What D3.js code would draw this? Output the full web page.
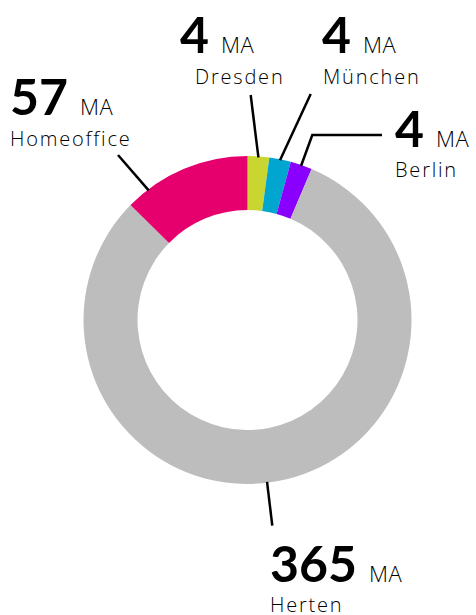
<!DOCTYPE html>
<html>

<head>
    <meta charset='utf-8'>
    <title>Standorte</title>
    <script type='text/javascript' src='https://cdn.jsdelivr.net/npm/d3@7'></script>
    <style>
        body { margin: 0; background: #fff; }
        text { font-family: Lato, 'Open Sans', sans-serif; fill: #000; }
        text.light { font-family: 'Open Sans', Lato, sans-serif; font-weight: 300; }
    </style>
</head>

<body>
    <svg width='476' height='615'></svg>
    <script type='text/javascript'>

        // Daten
        const categories = ['Dresden', 'München', 'Berlin', 'Herten', 'Homeoffice']
        const values = [4, 4, 4, 365, 57]
        const unit = 'MA'
        const colors = ['#c9d531', '#00a6cf', '#8a00ff', '#bdbdbd', '#e5006d']

        // kleine Segmente werden mit Mindestgröße gezeichnet, damit sie sichtbar bleiben
        const minSliceValue = 9.6

        const svg = d3.select('svg')
        const center = { x: 247.5, y: 320 }
        const outerR = 164
        const innerR = 110

        const dataset = categories.map((c, i) => ({ name: c, value: values[i], color: colors[i] }))

        const pie = d3.pie().sort(null).value(d => Math.max(d.value, minSliceValue))
        const arc = d3.arc().innerRadius(innerR).outerRadius(outerR)
        const arcs = pie(dataset)

        const g = svg.append('g').attr('transform', `translate(${center.x}, ${center.y})`)
        g.selectAll('path').data(arcs).enter().append('path')
            .attr('d', arc)
            .attr('fill', d => d.data.color)

        // Beschriftung: Position der Zahl, Versatz des Namens, Führungslinie
        const labels = {
            'Dresden': { x: 180, y: 53, nameDx: 15, t: 0.5, line: [[250.7, 95]] },
            'München': { x: 322, y: 53, nameDx: 1, t: 0.5, line: [[310.7, 94]] },
            'Berlin': { x: 395, y: 146.5, nameDx: 0, t: 0.5, line: [[312.3, 135], [382, 135]] },
            'Herten': { x: 270, y: 581.5, nameDx: 0, t: 0.515, line: [[272.3, 525.7]] },
            'Homeoffice': { x: 10, y: 115, nameDx: 0, t: 0.18, line: [[118, 155]] }
        }

        arcs.forEach(a => {
            const lab = labels[a.data.name]
            const ang = a.startAngle + lab.t * (a.endAngle - a.startAngle)
            const start = [center.x + (outerR - 1) * Math.sin(ang), center.y - (outerR - 1) * Math.cos(ang)]
            svg.append('path')
                .attr('d', d3.line()([start, ...lab.line]))
                .attr('fill', 'none')
                .attr('stroke', '#000')
                .attr('stroke-width', 2.5)

            const num = svg.append('text')
                .attr('x', lab.x).attr('y', lab.y)
                .attr('font-size', 50).attr('font-weight', 700)
                .text(a.data.value)
            const w = num.node().getComputedTextLength()
            svg.append('text').attr('class', 'light')
                .attr('x', lab.x + w + 12).attr('y', lab.y)
                .attr('font-size', 22)
                .attr('letter-spacing', 0.5)
                .text(unit)
            svg.append('text').attr('class', 'light')
                .attr('x', lab.x + lab.nameDx).attr('y', lab.y + 30.5)
                .attr('font-size', 20)
                .attr('letter-spacing', 1.8)
                .text(a.data.name)
        })
    </script>
</body>

</html>
